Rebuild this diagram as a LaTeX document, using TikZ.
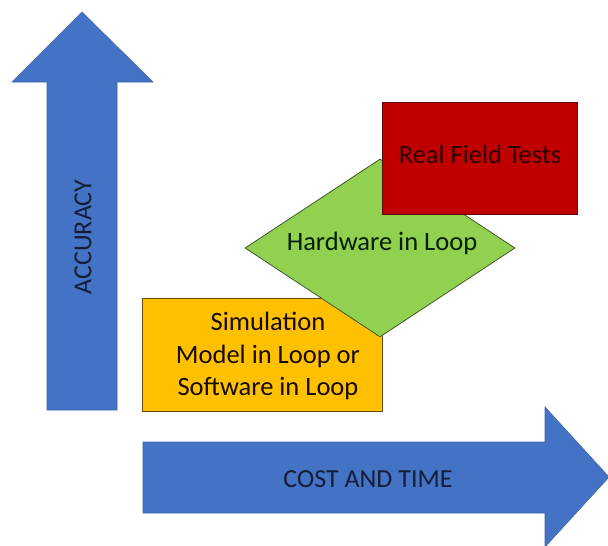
\documentclass[tikz,border=0pt]{standalone}
\usepackage{fontspec}
\setmainfont{Carlito}
\usetikzlibrary{shapes.geometric}
\definecolor{arrowblue}{HTML}{4472C4}
\definecolor{arrowline}{HTML}{3E66B0}
\definecolor{navytext}{HTML}{141E38}
\definecolor{redfill}{HTML}{C00000}
\definecolor{redline}{HTML}{5A0A0A}
\definecolor{greenfill}{HTML}{92D050}
\definecolor{greenline}{HTML}{3C5A28}
\definecolor{orangefill}{HTML}{FFC000}
\definecolor{orangeline}{HTML}{6B4A10}
\tikzset{
  bigarrow/.style={fill=arrowblue, draw=arrowline, line width=0.6pt},
  arrowtext/.style={text=navytext, font=\fontsize{26}{30}\selectfont, inner sep=0pt},
  boxtext/.style={font=\fontsize{26.5}{32.5}\selectfont, align=center, inner sep=0pt},
}
\begin{document}
\begin{tikzpicture}[x=1pt,y=-1pt]
\useasboundingbox (0,0) rectangle (608,546);
\begin{scope}
\clip (0,0) rectangle (608,546);
% vertical arrow
\draw[bigarrow] (47,410) -- (47,82) -- (12,82) -- (82,12) -- (153,82) -- (117,82) -- (117,410) -- cycle;
\node[arrowtext, rotate=90] (acc) at (83,237) {ACCURACY};
% horizontal arrow
\draw[bigarrow] (143,442) -- (545,442) -- (545,407) -- (609,477) -- (545,547) -- (545,513) -- (143,513) -- cycle;
\node[arrowtext] (cost) at (368,479) {COST AND TIME};
\end{scope}
% orange box
\node[draw=orangeline, fill=orangefill, line width=0.8pt, minimum width=240pt, minimum height=113pt, inner sep=0pt, anchor=north west] (sim) at (142,298) {};
\node[boxtext, text=black!92!orange] (simtext) at (268,356) {Simulation\\Model in Loop or\\Software in Loop};
% green diamond
\node[diamond, draw=greenline, fill=greenfill, line width=0.8pt, minimum width=270pt, minimum height=178pt, inner sep=0pt] (hil) at (380,248) {};
\node[boxtext, text=black!88!green] (hiltext) at (382,243) {Hardware in Loop};
% red box
\node[draw=redline, fill=redfill, line width=0.8pt, minimum width=195pt, minimum height=112pt, inner sep=0pt, anchor=north west] (rft) at (382,102) {};
\node[boxtext, text=black!82!red] (rfttext) at (480,154) {Real Field Tests};
\end{tikzpicture}
\end{document}
